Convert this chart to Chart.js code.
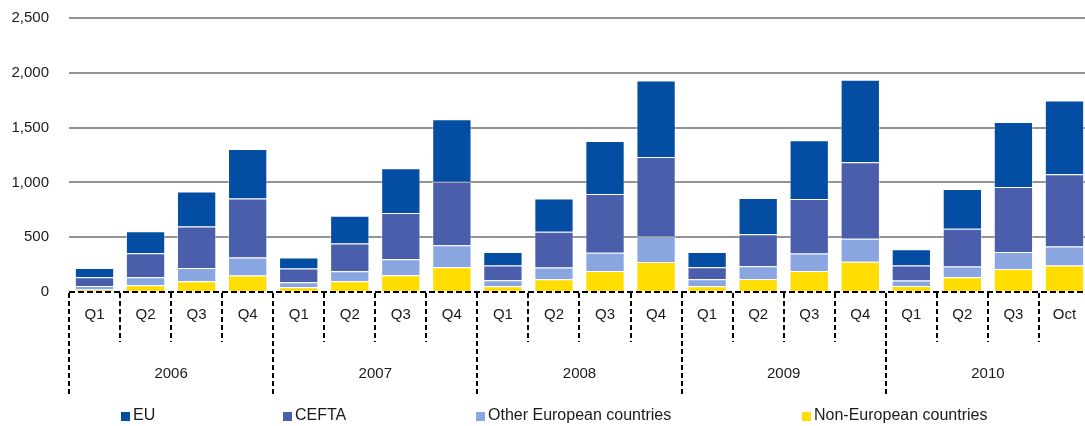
<!DOCTYPE html>
<html>
<head>
<meta charset="utf-8">
<script src="https://cdn.jsdelivr.net/npm/chart.js@4/dist/chart.umd.min.js"></script>
<style>
  html, body { margin: 0; padding: 0; background: #fff; overflow: hidden; }
  #wrap { position: relative; width: 1090px; height: 426px; }
  #legend { position: absolute; left: 0; top: 405px; width: 1085px; height: 20px;
            font-family: "Liberation Sans", Arial, sans-serif; font-size: 16px; color: #1a1a1a; }
  .item { position: absolute; top: 0; white-space: nowrap; line-height: 20px; }
  .box { display: inline-block; width: 9px; height: 9px; margin-right: 3px; vertical-align: -1px; }
</style>
</head>
<body>
<div id="wrap">
  <canvas id="chart" width="1090" height="426"></canvas>
  <div id="legend"></div>
</div>
<script>
// Categories
const quarters = ["Q1", "Q2", "Q3", "Q4", "Q1", "Q2", "Q3", "Q4", "Q1", "Q2", "Q3", "Q4",
                  "Q1", "Q2", "Q3", "Q4", "Q1", "Q2", "Q3", "Oct"];
const years = ["2006", "2007", "2008", "2009", "2010"];

// Series values
const nonEuropean = [22, 61, 98, 150, 43, 98, 153, 226, 52, 116, 192, 274, 53, 119, 192, 276, 55, 134, 210, 241];
const otherEuropean = [33, 73, 121, 165, 46, 91, 146, 200, 55, 107, 165, 233, 63, 116, 159, 210, 49, 98, 156, 174];
const cefta = [79, 220, 379, 539, 125, 254, 421, 580, 134, 326, 537, 725, 110, 293, 497, 698, 137, 344, 592, 659];
const eu = [86, 201, 320, 451, 101, 252, 409, 571, 125, 305, 484, 698, 140, 329, 537, 752, 149, 363, 594, 673];

const yTicks = [0, 500, 1000, 1500, 2000, 2500];

const colors = {
    eu: "#034ea2",
    cefta: "#4b5eab",
    other: "#89a6e0",
    nonEu: "#ffdd00"
};

// Legend (HTML, same order as the original)
const legendItems = [
    { label: "EU", color: colors.eu, x: 121 },
    { label: "CEFTA", color: colors.cefta, x: 283 },
    { label: "Other European countries", color: colors.other, x: 476 },
    { label: "Non-European countries", color: colors.nonEu, x: 802 }
];
const legendEl = document.getElementById("legend");
legendItems.forEach(it => {
    const div = document.createElement("div");
    div.className = "item";
    div.style.left = it.x + "px";
    div.innerHTML = '<span class="box" style="background:' + it.color + '"></span>' + it.label;
    legendEl.appendChild(div);
});

// Dashed boxes under the bars
const dashedAxis = {
    id: "dashedAxis",
    afterDraw(chart) {
        const ctx = chart.ctx;
        const x = chart.scales.x;
        const area = chart.chartArea;
        const n = quarters.length;
        const w = (x.getPixelForValue(1) - x.getPixelForValue(0));
        ctx.save();
        ctx.strokeStyle = "#000";
        ctx.lineWidth = 2;
        ctx.setLineDash([6, 3]);
        ctx.beginPath();
        ctx.moveTo(area.left, area.bottom);
        ctx.lineTo(area.right, area.bottom);
        ctx.stroke();
        ctx.setLineDash([5, 3]);
        for (let i = 0; i <= n; i++) {
            const px = Math.round(x.getPixelForValue(0) - w / 2 + i * w);
            const end = (i % 4 === 0) ? area.bottom + 102 : area.bottom + 50;
            ctx.beginPath();
            ctx.moveTo(px, area.bottom + 1);
            ctx.lineTo(px, end);
            ctx.stroke();
        }
        ctx.restore();
    }
};

const font = { family: "'Liberation Sans', Arial, sans-serif", size: 15 };

new Chart(document.getElementById("chart").getContext("2d"), {
    type: "bar",
    data: {
        labels: quarters,
        datasets: [
            { label: "Non-European countries", data: nonEuropean, backgroundColor: colors.nonEu },
            { label: "Other European countries", data: otherEuropean, backgroundColor: colors.other },
            { label: "CEFTA", data: cefta, backgroundColor: colors.cefta },
            { label: "EU", data: eu, backgroundColor: colors.eu }
        ].map(d => Object.assign(d, {
            borderColor: "rgba(255,255,255,0.45)",
            borderWidth: 1,
            barPercentage: 0.77,
            categoryPercentage: 1
        }))
    },
    options: {
        responsive: false,
        animation: false,
        layout: { padding: { top: 18, right: 0, left: 0, bottom: 0 } },
        plugins: {
            legend: { display: false },
            tooltip: { enabled: false }
        },
        scales: {
            x: {
                stacked: true,
                weight: 0,
                grid: {
                    color: "rgba(0,0,0,0)",
                    drawOnChartArea: false,
                    drawTicks: true,
                    tickLength: 14
                },
                border: { display: false },
                ticks: { color: "#1a1a1a", font: font, padding: 0, maxRotation: 0, autoSkip: false },
                afterFit: s => { s.height = 50; }
            },
            x2: {
                type: "category",
                position: "bottom",
                weight: 1,
                labels: years,
                offset: true,
                grid: { display: false },
                border: { display: false },
                ticks: { color: "#1a1a1a", font: font, padding: 15, maxRotation: 0 },
                afterFit: s => { s.height = 84; }
            },
            y: {
                stacked: true,
                min: 0,
                max: 2500,
                afterBuildTicks: s => { s.ticks = yTicks.map(v => ({ value: v })); },
                grid: {
                    color: ctx => ctx.tick && ctx.tick.value === 0 ? "rgba(0,0,0,0)" : "#939393",
                    lineWidth: 2,
                    drawTicks: true,
                    tickLength: 17,
                    tickColor: "rgba(0,0,0,0)"
                },
                border: { display: false },
                ticks: {
                    color: "#1a1a1a",
                    font: font,
                    padding: 3,
                    callback: v => v.toLocaleString("en-US")
                },
                afterFit: s => { s.width = 69; }
            }
        }
    },
    plugins: [dashedAxis]
});
</script>
</body>
</html>
